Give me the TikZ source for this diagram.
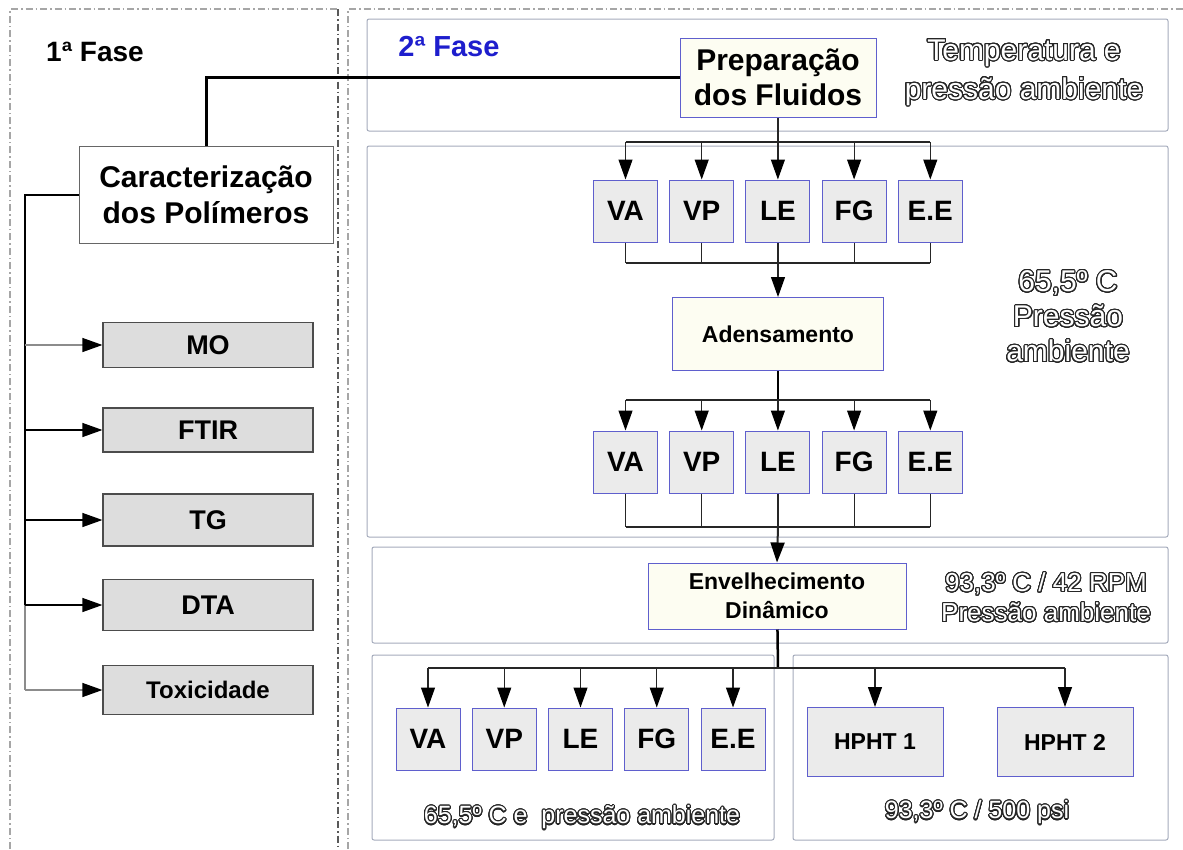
\documentclass[tikz,border=0pt]{standalone}
\usepackage{fontspec}
\setmainfont{Liberation Sans}
\usepackage[copies]{contour}
\usepackage{tikz}
\usetikzlibrary{arrows.meta,positioning}
\usepackage{xcolor}
\definecolor{panelline}{RGB}{165,172,188}
\definecolor{boxblue}{RGB}{95,95,205}
\definecolor{boxfill}{RGB}{235,235,235}
\definecolor{leftfill}{RGB}{221,221,221}
\definecolor{cream}{RGB}{253,253,242}
\definecolor{faseblue}{RGB}{30,30,205}
\contourlength{1.1pt}
\contournumber{32}
\newcommand{\oco}[1]{{\color{white}\contour{black!85}{#1}}}
\tikzset{seta/.style={-{Triangle[length=20pt,width=14pt,color=black]}, line width=1.2pt, draw=black!85}}

\begin{document}
\begin{tikzpicture}[x=1pt,y=-1pt,
  panel/.style={draw=panelline, line width=1pt, rounded corners=2pt},
  moldura/.style={line width=1.2pt, dash pattern=on 7pt off 3pt on 1.5pt off 3pt},
  etapa/.style={draw=boxblue, fill=cream, line width=1pt, align=center, inner sep=0pt},
  ensaio/.style={draw=boxblue, fill=boxfill, line width=1pt, inner sep=0pt,
    minimum width=64pt, minimum height=62pt, font=\fontsize{28}{30}\selectfont\bfseries},
  hpht/.style={ensaio, minimum width=136pt, minimum height=69pt, font=\fontsize{23}{26}\selectfont\bfseries},
  analise/.style={draw=black!70, fill=leftfill, line width=1.2pt, inner sep=0pt,
    minimum width=210pt, font=\fontsize{27}{30}\selectfont\bfseries},
  liga/.style={line width=1.2pt, draw=black!85},
  grosso/.style={line width=3pt}]
\path[use as bounding box, fill=white] (0,0) rectangle (1183,849);

% molduras das fases
\draw[moldura, black!35] (10,849) -- (10,9) -- (338,9);
\draw[moldura, black!65] (338,9) -- (338,849);
\draw[moldura, black!35] (348,849) -- (348,9) -- (1183,9);

% paineis da 2a fase
\draw[panel] (367,19) rectangle (1168,131);
\draw[panel] (367,146) rectangle (1168,537);
\draw[panel] (372,547) rectangle (1168,643);
\draw[panel] (372,655) rectangle (774,840);
\draw[panel] (793,655) rectangle (1168,840);

% titulos
\node[font=\fontsize{28}{30}\selectfont\bfseries] (fase1) at (95,52) {1ª Fase};
\node[font=\fontsize{29}{30}\selectfont\bfseries, text=faseblue] (fase2) at (449,47) {2ª Fase};

% 1a fase
\node[draw=black!60, fill=white, line width=1pt, align=center, inner sep=0pt,
  minimum width=254pt, minimum height=97pt, font=\fontsize{30}{36}\selectfont\bfseries]
  (cara) at (206,194.5) {Caracterização\\dos Polímeros};
\node[analise, minimum height=45pt] (mo) at (208,345) {MO};
\node[analise, minimum height=44pt] (ftir) at (208,430) {FTIR};
\node[analise, minimum height=52pt] (tg) at (208,520) {TG};
\node[analise, minimum height=51pt] (dta) at (208,605) {DTA};
\node[analise, minimum height=49pt, font=\fontsize{24}{26}\selectfont\bfseries] (tox) at (208,690) {Toxicidade};

\coordinate (tronco) at (25,690);
\draw[line width=2pt] (cara.west) -| (tronco |- dta);
\draw[line width=1.5pt, black!45] (tronco |- dta) -- (tronco |- tox);
\foreach \n/\c in {mo/black!45, ftir/black, tg/black, dta/black, tox/black!45}
  \draw[seta, draw=\c] (tronco |- \n) -- (\n.west);

% 2a fase
\node[etapa, minimum width=196pt, minimum height=79pt, font=\fontsize{30}{35}\selectfont\bfseries]
  (prep) at (778,77.5) {Preparação\\dos Fluidos};
\draw[grosso] (cara.north) |- (prep.west);

\node[etapa, minimum width=211pt, minimum height=73pt, font=\fontsize{23}{26}\selectfont\bfseries]
  (aden) at (778,334) {Adensamento};
\node[etapa, minimum width=258pt, minimum height=66pt, font=\fontsize{23}{29}\selectfont\bfseries]
  (enve) at (777,596) {Envelhecimento\\Dinâmico};

\foreach \t [count=\i] in {VA,VP,LE,FG,E.E}{
  \node[ensaio] (f1-\i) at ({625.5+76.2*(\i-1)},211) {\t};
  \node[ensaio] (f2-\i) at ({625.5+76.2*(\i-1)},462) {\t};
  \node[ensaio] (f3-\i) at ({428+76.25*(\i-1)},739) {\t};
}
\node[hpht] (hp1) at (875,742) {HPHT 1};
\node[hpht] (hp2) at (1065,742) {HPHT 2};

% condicoes
\node[align=center, font=\fontsize{30}{39}\selectfont] (cond1) at (1024,73) {\oco{Temperatura e}\\\oco{pressão ambiente}};
\node[align=center, font=\fontsize{30}{35}\selectfont] (cond2) at (1068,317) {\oco{65,5º C}\\\oco{Pressão}\\\oco{ambiente}};
\node[align=center, font=\fontsize{26}{30}\selectfont] (cond3) at (1046,598) {\oco{93,3º C / 42 RPM}\\\oco{Pressão ambiente}};
\node[font=\fontsize{25}{28}\selectfont] (cond4) at (582,818) {\oco{65,5º C e \ pressão ambiente}};
\node[font=\fontsize{25}{28}\selectfont] (cond5) at (977,813) {\oco{93,3º C / 500 psi}};

% preparacao -> ensaios
\coordinate (bus1) at (778,142);
\draw[liga] (prep) -- (bus1);
\draw[liga] (f1-1 |- bus1) -- (f1-5 |- bus1);
\coordinate (junta1) at (778,263);
\draw[liga] (f1-1 |- junta1) -- (f1-5 |- junta1);
\foreach \i in {1,...,5}{
  \draw[seta] (f1-\i |- bus1) -- (f1-\i.north);
  \draw[liga] (f1-\i.south) -- (f1-\i |- junta1);
}
\draw[seta] (junta1) -- (aden.north);

% adensamento -> ensaios
\coordinate (bus2) at (778,400);
\draw[line width=2pt] (aden) -- (bus2);
\draw[liga] (f2-1 |- bus2) -- (f2-5 |- bus2);
\coordinate (junta2) at (778,527);
\draw[liga] (f2-1 |- junta2) -- (f2-5 |- junta2);
\foreach \i in {1,...,5}{
  \draw[seta] (f2-\i |- bus2) -- (f2-\i.north);
  \draw[liga] (f2-\i.south) -- (f2-\i |- junta2);
}
\draw[seta, line width=2pt] (junta2) -- (enve.north);

% envelhecimento -> ensaios e HPHT
\coordinate (bus3) at (778,668);
\draw[line width=2.5pt] (enve) -- (bus3);
\draw[liga] (f3-1 |- bus3) -- (hp2 |- bus3);
\foreach \i in {1,...,5}
  \draw[seta] (f3-\i |- bus3) -- (f3-\i.north);
\draw[seta] (hp1 |- bus3) -- (hp1.north);
\draw[seta] (hp2 |- bus3) -- (hp2.north);
\end{tikzpicture}
\end{document}
